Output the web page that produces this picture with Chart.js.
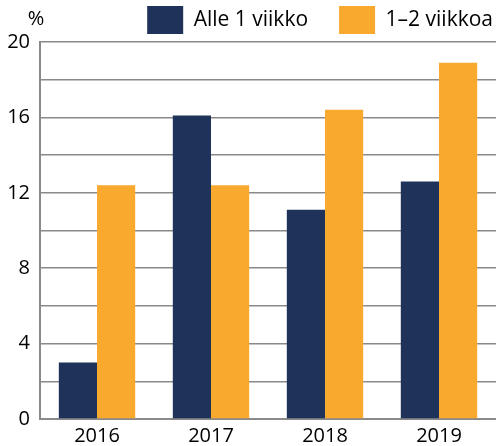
<!DOCTYPE html>
<html>
<head>
<meta charset="utf-8">
<script src="https://cdn.jsdelivr.net/npm/chart.js@4.4.0/dist/chart.umd.min.js"></script>
<style>
  html, body { margin: 0; padding: 0; background: #fff; }
  #wrap { width: 496px; height: 446px; }
</style>
</head>
<body>
<div id="wrap"><canvas id="chart" width="496" height="446"></canvas></div>
<script>
// data
const years = ['2016', '2017', '2018', '2019'];
const alle1 = [3.0, 16.1, 11.1, 12.6];
const yksiKaksi = [12.4, 12.4, 16.4, 18.9];
const seriesNames = ['Alle 1 viikko', '1\u20132 viikkoa'];

const FONT = '"Open Sans", "Noto Sans", sans-serif';
const LEGEND_PAD = 31;

// fixed legend height so the plot starts where the reference does,
// then nudge the legend so the items sit like in the reference
const legendPlace = {
    id: 'legendPlace',
    beforeInit(chart) {
        const fit = chart.legend.fit;
        chart.legend.fit = function () {
            fit.bind(chart.legend)();
            this.height = 42;
        };
    },
    afterLayout(chart) {
        const lg = chart.legend;
        const up = LEGEND_PAD - 6;
        lg.top -= up;
        lg.height += up;
        lg.left += 28;
        lg.right += 28;
    }
};

// the "%" unit label above the y axis
const unitLabel = {
    id: 'unitLabel',
    afterDraw(chart) {
        const ctx = chart.ctx;
        ctx.save();
        ctx.font = '20px ' + FONT;
        ctx.fillStyle = '#000';
        ctx.textAlign = 'center';
        ctx.textBaseline = 'middle';
        ctx.fillText('%', 36, 19);
        ctx.restore();
    }
};

const ctx = document.getElementById('chart').getContext('2d');
const chart = new Chart(ctx, {
    type: 'bar',
    data: {
        labels: years,
        datasets: [{
            label: seriesNames[0],
            data: alle1,
            backgroundColor: '#1f3259',
            borderWidth: 0
        }, {
            label: seriesNames[1],
            data: yksiKaksi,
            backgroundColor: '#f8a92e',
            borderWidth: 0
        }]
    },
    options: {
        responsive: false,
        animation: false,
        datasets: {
            bar: { categoryPercentage: 0.67, barPercentage: 1.0 }
        },
        layout: { padding: 0 },
        plugins: {
            legend: {
                position: 'top',
                align: 'end',
                labels: {
                    boxWidth: 36,
                    boxHeight: 28,
                    color: '#000',
                    font: { family: FONT, size: 21 },
                    padding: LEGEND_PAD
                }
            },
            tooltip: { enabled: false }
        },
        scales: {
            x: {
                grid: { display: false, drawTicks: false },
                border: { display: true, color: '#8a8a8a', width: 2 },
                ticks: {
                    color: '#000',
                    font: { family: FONT, size: 20 },
                    padding: 5
                },
                afterFit(axis) { axis.height = 27; }
            },
            y: {
                min: 0,
                max: 20,
                grid: { color: '#8a8a8a', lineWidth: 1.5, drawTicks: false },
                border: { display: true, color: '#8a8a8a', width: 2 },
                ticks: {
                    stepSize: 2,
                    color: '#000',
                    font: { family: FONT, size: 20 },
                    padding: 10,
                    callback: v => (v % 4 === 0 ? v : '')
                },
                afterFit(axis) { axis.width = 40; }
            }
        }
    },
    plugins: [legendPlace, unitLabel]
});
</script>
</body>
</html>
